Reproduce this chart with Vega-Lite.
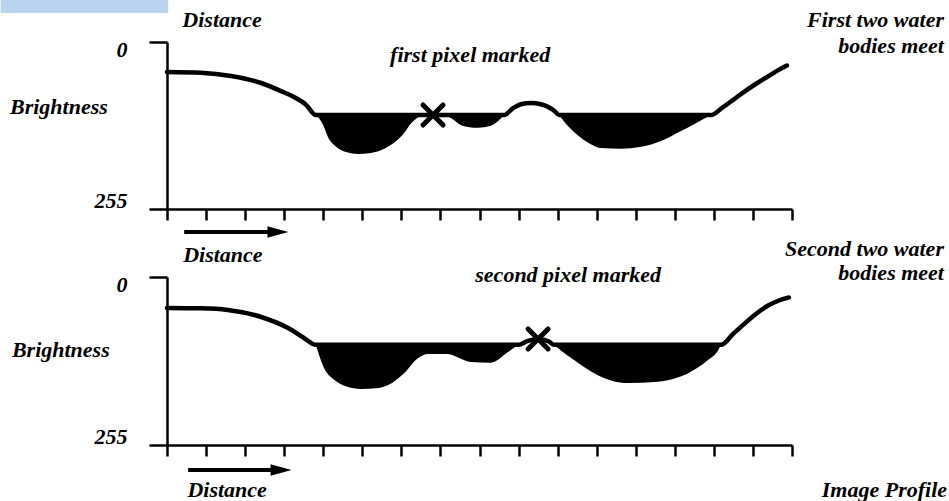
{
  "$schema": "https://vega.github.io/schema/vega-lite/v6.json",
  "padding": 0,
  "autosize": {"type": "pad"},
  "background": "white",
  "bounds": "flush",
  "spacing": 68,
  "config": {
    "view": {"stroke": null},
    "axis": {"grid": false, "domainColor": "black", "tickColor": "black", "domainWidth": 2.5, "tickWidth": 2.5}
  },
  "datasets": {
    "banner": [{"x": -4.26, "x2": 0.03, "y": -64.1, "y2": -44.3}],
    "line1": [
      {"x": 0.0, "y": 45.8}, {"x": 0.87, "y": 47}, {"x": 1.64, "y": 52}, {"x": 2.41, "y": 62.6},
      {"x": 2.92, "y": 75}, {"x": 3.25, "y": 84}, {"x": 3.56, "y": 96}, {"x": 3.81, "y": 111.5},
      {"x": 6.81, "y": 111.5}, {"x": 8.63, "y": 111.5}, {"x": 8.86, "y": 101}, {"x": 9.06, "y": 95},
      {"x": 9.32, "y": 93}, {"x": 9.57, "y": 95}, {"x": 9.75, "y": 99}, {"x": 9.91, "y": 105},
      {"x": 10.04, "y": 111.5}, {"x": 13.93, "y": 111.5}, {"x": 14.2, "y": 101}, {"x": 14.5, "y": 88},
      {"x": 14.8, "y": 75}, {"x": 15.1, "y": 63}, {"x": 15.4, "y": 52}, {"x": 15.65, "y": 43}, {"x": 15.87, "y": 36}
    ],
    "water1": [
      {"basin": "a", "x": 3.81, "y": 111.5, "level": 111.5}, {"basin": "a", "x": 4.0, "y": 127, "level": 111.5},
      {"basin": "a", "x": 4.12, "y": 145, "level": 111.5}, {"basin": "a", "x": 4.33, "y": 160, "level": 111.5},
      {"basin": "a", "x": 4.58, "y": 168, "level": 111.5}, {"basin": "a", "x": 4.89, "y": 171, "level": 111.5},
      {"basin": "a", "x": 5.22, "y": 169.5, "level": 111.5}, {"basin": "a", "x": 5.56, "y": 163, "level": 111.5},
      {"basin": "a", "x": 5.81, "y": 154, "level": 111.5}, {"basin": "a", "x": 6.07, "y": 139, "level": 111.5},
      {"basin": "a", "x": 6.25, "y": 124, "level": 111.5}, {"basin": "a", "x": 6.4, "y": 116, "level": 111.5},
      {"basin": "a", "x": 6.5, "y": 111.5, "level": 111.5},
      {"basin": "b", "x": 7.01, "y": 111.5, "level": 111.5}, {"basin": "b", "x": 7.27, "y": 116, "level": 111.5},
      {"basin": "b", "x": 7.53, "y": 127, "level": 111.5}, {"basin": "b", "x": 7.96, "y": 131, "level": 111.5},
      {"basin": "b", "x": 8.29, "y": 128, "level": 111.5}, {"basin": "b", "x": 8.47, "y": 121, "level": 111.5},
      {"basin": "b", "x": 8.63, "y": 111.5, "level": 111.5},
      {"basin": "c", "x": 10.04, "y": 111.5, "level": 111.5}, {"basin": "c", "x": 10.21, "y": 125, "level": 111.5},
      {"basin": "c", "x": 10.47, "y": 140, "level": 111.5}, {"basin": "c", "x": 10.85, "y": 156, "level": 111.5},
      {"basin": "c", "x": 11.11, "y": 162, "level": 111.5}, {"basin": "c", "x": 11.62, "y": 163, "level": 111.5},
      {"basin": "c", "x": 12.14, "y": 160, "level": 111.5}, {"basin": "c", "x": 12.65, "y": 151, "level": 111.5},
      {"basin": "c", "x": 13.16, "y": 136, "level": 111.5}, {"basin": "c", "x": 13.54, "y": 124, "level": 111.5},
      {"basin": "c", "x": 13.93, "y": 111.5, "level": 111.5}
    ],
    "mark1": [{"x": 6.81, "y": 111.5}],
    "arrow1": [{"x": 0.44, "x2": 2.7, "y": 290}],
    "head1": [{"x": 2.84, "y": 290}],
    "textC1": [
      {"x": 1.41, "y": -22.9, "label": "Distance"},
      {"x": 7.76, "y": 30.5, "label": "first pixel marked"},
      {"x": 1.43, "y": 336, "label": "Distance"}
    ],
    "textR1": [
      {"x": 19.89, "y": -22.9, "label": "First two water"},
      {"x": 19.89, "y": 16.8, "label": "bodies meet"}
    ],
    "textL1": [{"x": -4.02, "y": 110, "label": "Brightness"}],
    "line2": [
      {"x": 0.0, "y": 47}, {"x": 0.87, "y": 47.5}, {"x": 1.56, "y": 50}, {"x": 2.41, "y": 60.7},
      {"x": 3.1, "y": 77.4}, {"x": 3.51, "y": 92.6}, {"x": 3.81, "y": 103}, {"x": 8.99, "y": 103},
      {"x": 9.24, "y": 97}, {"x": 9.5, "y": 94}, {"x": 9.78, "y": 98}, {"x": 9.91, "y": 103},
      {"x": 14.18, "y": 103}, {"x": 14.5, "y": 86}, {"x": 14.8, "y": 70}, {"x": 15.1, "y": 55},
      {"x": 15.4, "y": 43}, {"x": 15.65, "y": 36}, {"x": 15.92, "y": 31}
    ],
    "water2": [
      {"basin": "a", "x": 3.81, "y": 103, "level": 103}, {"basin": "a", "x": 4.01, "y": 137, "level": 103},
      {"basin": "a", "x": 4.28, "y": 156, "level": 103}, {"basin": "a", "x": 4.58, "y": 166, "level": 103},
      {"basin": "a", "x": 4.97, "y": 170, "level": 103}, {"basin": "a", "x": 5.35, "y": 169, "level": 103},
      {"basin": "a", "x": 5.66, "y": 164, "level": 103}, {"basin": "a", "x": 6.07, "y": 146, "level": 103},
      {"basin": "a", "x": 6.43, "y": 123, "level": 103}, {"basin": "a", "x": 6.68, "y": 117, "level": 103},
      {"basin": "a", "x": 7.19, "y": 117, "level": 103}, {"basin": "a", "x": 7.48, "y": 123, "level": 103},
      {"basin": "a", "x": 7.78, "y": 129, "level": 103}, {"basin": "a", "x": 8.29, "y": 130, "level": 103},
      {"basin": "a", "x": 8.73, "y": 114, "level": 103}, {"basin": "a", "x": 8.99, "y": 103, "level": 103},
      {"basin": "b", "x": 9.91, "y": 103, "level": 103}, {"basin": "b", "x": 10.09, "y": 112, "level": 103},
      {"basin": "b", "x": 10.42, "y": 126, "level": 103}, {"basin": "b", "x": 11.03, "y": 149, "level": 103},
      {"basin": "b", "x": 11.79, "y": 161, "level": 103}, {"basin": "b", "x": 12.57, "y": 159, "level": 103},
      {"basin": "b", "x": 13.41, "y": 144, "level": 103}, {"basin": "b", "x": 13.85, "y": 126, "level": 103},
      {"basin": "b", "x": 14.11, "y": 111, "level": 103}, {"basin": "b", "x": 14.18, "y": 103, "level": 103}
    ],
    "mark2": [{"x": 9.5, "y": 94}],
    "arrow2": [{"x": 0.54, "x2": 2.78, "y": 293}],
    "head2": [{"x": 2.92, "y": 293}],
    "textC2": [
      {"x": 10.27, "y": 7.6, "label": "second pixel marked"},
      {"x": 1.54, "y": 334, "label": "Distance"}
    ],
    "textR2": [
      {"x": 19.89, "y": -31.9, "label": "Second two water"},
      {"x": 19.89, "y": 4.6, "label": "bodies meet"},
      {"x": 19.97, "y": 334, "label": "Image Profile"}
    ],
    "textL2": [{"x": -3.97, "y": 121, "label": "Brightness"}]
  },
  "vconcat": [
    {
      "width": 625,
      "height": 167,
      "encoding": {
        "x": {"field": "x", "type": "quantitative", "scale": {"domain": [0, 16], "nice": false, "zero": false},
          "axis": {"values": [0,1,2,3,4,5,6,7,8,9,10,11,12,13,14,15,16], "labels": false, "title": null, "tickSize": 11}},
        "y": {"field": "y", "type": "quantitative", "scale": {"domain": [0, 255], "nice": false, "zero": false, "reverse": true},
          "axis": {"values": [0, 255], "title": null, "tickSize": 18, "labelPadding": 22, "labelFlush": true, "labelFlushOffset": 3,
            "labelFont": "Liberation Serif", "labelFontStyle": "italic", "labelFontWeight": "bold", "labelFontSize": 22, "labelColor": "black"}}
      },
      "layer": [
        {"data": {"name": "banner"}, "mark": {"type": "rect", "color": "#b9d3ef"},
          "encoding": {"x2": {"field": "x2"}, "y2": {"field": "y2"}}},
        {"data": {"name": "water1"}, "mark": {"type": "area", "color": "black", "interpolate": "monotone"},
          "encoding": {"y2": {"field": "level"}, "detail": {"field": "basin"}}},
        {"data": {"name": "line1"}, "mark": {"type": "line", "color": "black", "strokeWidth": 4.5, "interpolate": "monotone", "strokeCap": "round"}, "encoding": {}},
        {"data": {"name": "mark1"}, "mark": {"type": "point", "shape": "M-1,-1L1,1M-1,1L1,-1", "size": 400, "filled": false, "stroke": "black", "strokeWidth": 5, "strokeCap": "round", "opacity": 1}, "encoding": {}},
        {"data": {"name": "arrow1"}, "mark": {"type": "rule", "color": "black", "strokeWidth": 4}, "encoding": {"x2": {"field": "x2"}}},
        {"data": {"name": "head1"}, "mark": {"type": "point", "shape": "M-1,-0.55L1,0L-1,0.55Z", "size": 440, "filled": true, "color": "black", "opacity": 1}, "encoding": {}},
        {"data": {"name": "textC1"}, "mark": {"type": "text", "align": "center", "baseline": "alphabetic", "font": "Liberation Serif", "fontStyle": "italic", "fontWeight": "bold", "fontSize": 22, "color": "black"},
          "encoding": {"text": {"field": "label"}}},
        {"data": {"name": "textR1"}, "mark": {"type": "text", "align": "right", "baseline": "alphabetic", "font": "Liberation Serif", "fontStyle": "italic", "fontWeight": "bold", "fontSize": 22, "color": "black"},
          "encoding": {"text": {"field": "label"}}},
        {"data": {"name": "textL1"}, "mark": {"type": "text", "align": "left", "baseline": "alphabetic", "font": "Liberation Serif", "fontStyle": "italic", "fontWeight": "bold", "fontSize": 22, "color": "black"},
          "encoding": {"text": {"field": "label"}}}
      ]
    },
    {
      "width": 625,
      "height": 168,
      "encoding": {
        "x": {"field": "x", "type": "quantitative", "scale": {"domain": [0, 16], "nice": false, "zero": false},
          "axis": {"values": [0,1,2,3,4,5,6,7,8,9,10,11,12,13,14,15,16], "labels": false, "title": null, "tickSize": 11}},
        "y": {"field": "y", "type": "quantitative", "scale": {"domain": [0, 255], "nice": false, "zero": false, "reverse": true},
          "axis": {"values": [0, 255], "title": null, "tickSize": 18, "labelPadding": 22, "labelFlush": true, "labelFlushOffset": 3,
            "labelFont": "Liberation Serif", "labelFontStyle": "italic", "labelFontWeight": "bold", "labelFontSize": 22, "labelColor": "black"}}
      },
      "layer": [
        {"data": {"name": "water2"}, "mark": {"type": "area", "color": "black", "interpolate": "monotone"},
          "encoding": {"y2": {"field": "level"}, "detail": {"field": "basin"}}},
        {"data": {"name": "line2"}, "mark": {"type": "line", "color": "black", "strokeWidth": 4.5, "interpolate": "monotone", "strokeCap": "round"}, "encoding": {}},
        {"data": {"name": "mark2"}, "mark": {"type": "point", "shape": "M-1,-1L1,1M-1,1L1,-1", "size": 400, "filled": false, "stroke": "black", "strokeWidth": 5, "strokeCap": "round", "opacity": 1}, "encoding": {}},
        {"data": {"name": "arrow2"}, "mark": {"type": "rule", "color": "black", "strokeWidth": 4}, "encoding": {"x2": {"field": "x2"}}},
        {"data": {"name": "head2"}, "mark": {"type": "point", "shape": "M-1,-0.55L1,0L-1,0.55Z", "size": 440, "filled": true, "color": "black", "opacity": 1}, "encoding": {}},
        {"data": {"name": "textC2"}, "mark": {"type": "text", "align": "center", "baseline": "alphabetic", "font": "Liberation Serif", "fontStyle": "italic", "fontWeight": "bold", "fontSize": 22, "color": "black"},
          "encoding": {"text": {"field": "label"}}},
        {"data": {"name": "textR2"}, "mark": {"type": "text", "align": "right", "baseline": "alphabetic", "font": "Liberation Serif", "fontStyle": "italic", "fontWeight": "bold", "fontSize": 22, "color": "black"},
          "encoding": {"text": {"field": "label"}}},
        {"data": {"name": "textL2"}, "mark": {"type": "text", "align": "left", "baseline": "alphabetic", "font": "Liberation Serif", "fontStyle": "italic", "fontWeight": "bold", "fontSize": 22, "color": "black"},
          "encoding": {"text": {"field": "label"}}}
      ]
    }
  ]
}
